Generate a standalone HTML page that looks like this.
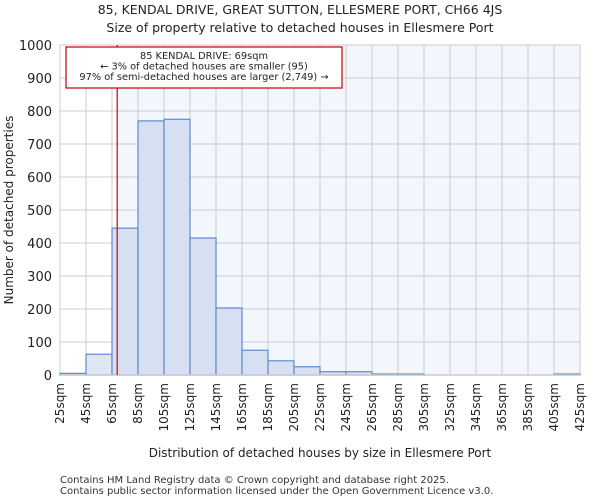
<!DOCTYPE html>
<html><head><meta charset="utf-8"><style>
body{margin:0;background:#fff;font-family:"DejaVu Sans","Liberation Sans",sans-serif}
</style></head><body>
<svg id="c" width="600" height="500" xmlns="http://www.w3.org/2000/svg">
<text x="300" y="14" text-anchor="middle" font-size="12.5" fill="#222">85, KENDAL DRIVE, GREAT SUTTON, ELLESMERE PORT, CH66 4JS</text>
<text x="300" y="32" text-anchor="middle" font-size="12.5" fill="#222">Size of property relative to detached houses in Ellesmere Port</text>
<g id="plot"></g>
<text transform="translate(13,210) rotate(-90)" text-anchor="middle" font-size="12" fill="#222">Number of detached properties</text>
<text x="320" y="457" text-anchor="middle" font-size="12" fill="#222">Distribution of detached houses by size in Ellesmere Port</text>
<text x="60" y="483" font-size="10" fill="#333">Contains HM Land Registry data © Crown copyright and database right 2025.</text>
<text x="60" y="494" font-size="10" fill="#333">Contains public sector information licensed under the Open Government Licence v3.0.</text>
</svg>
<script>
const binStarts=[25,45,65,85,105,125,145,165,185,205,225,245,265,285,305,325,345,365,385,405];
const counts=[5,63,445,770,775,415,203,75,43,25,10,10,3,3,0,0,0,0,0,3];
const yTicks=[0,100,200,300,400,500,600,700,800,900,1000];
const xTickLabels=["25sqm","45sqm","65sqm","85sqm","105sqm","125sqm","145sqm","165sqm","185sqm","205sqm","225sqm","245sqm","265sqm","285sqm","305sqm","325sqm","345sqm","365sqm","385sqm","405sqm","425sqm"];
const propertySize=69;
const NS="http://www.w3.org/2000/svg";
const L=60,R=580,T=45,B=375,xmin=25,xmax=425,ymax=1000;
const xs=v=>L+(v-xmin)/(xmax-xmin)*(R-L);
const ys=v=>B-v/ymax*(B-T);
const g=document.getElementById('plot');
function mk(t,a){const e=document.createElementNS(NS,t);for(const k in a)e.setAttribute(k,a[k]);g.appendChild(e);return e;}
let bg=mk('rect',{x:xs(propertySize),y:T,width:R-xs(propertySize),height:B-T,fill:'#f3f6fd'});


yTicks.forEach(v=>{
 let l=mk('line',{x1:L,x2:R,y1:ys(v),y2:ys(v),stroke:'#ccc','stroke-width':1});
 
 
 let t=mk('text',{x:L-8,y:ys(v)+5,'text-anchor':'end','font-size':13,fill:'#222'});
 t.textContent=v;
 
 
});
xTickLabels.forEach((s,i)=>{
 const x=xs(xmin+i*20);
 let l=mk('line',{x1:x,x2:x,y1:T,y2:B,stroke:'#ccc','stroke-width':1});
 
 
 let t=mk('text',{transform:`translate(${x+4},${B+8}) rotate(-90)`,'text-anchor':'end','font-size':12,fill:'#222'});
 t.textContent=s;
 
 
});
binStarts.forEach((s,i)=>{
 if(counts[i]<=0)return;
 const x=xs(s),w=xs(s+20)-x,y=ys(counts[i]);
 let r=mk('rect',{x:x,y:y,width:w,height:B-y,fill:s+20<=propertySize?'#dfe6f3':'#d6e0f2',stroke:'#5b8bd0','stroke-width':1.2});
 
 
});
let ax=mk('line',{x1:L,x2:R,y1:B,y2:B,stroke:'#ccc','stroke-width':1.5});


let ml=mk('line',{x1:xs(propertySize),x2:xs(propertySize),y1:T,y2:B,stroke:'#c00','stroke-width':1.2});


let box=mk('rect',{x:66,y:47,width:276,height:41,fill:'#fff',stroke:'#c00','stroke-width':1.2});


["85 KENDAL DRIVE: 69sqm","← 3% of detached houses are smaller (95)","97% of semi-detached houses are larger (2,749) →"].forEach((s,i)=>{
 let t=mk('text',{x:204,y:59+i*10.5,'text-anchor':'middle','font-size':9.8,fill:'#222'});
 t.textContent=s;
 
 
});
</script>
</body></html>
